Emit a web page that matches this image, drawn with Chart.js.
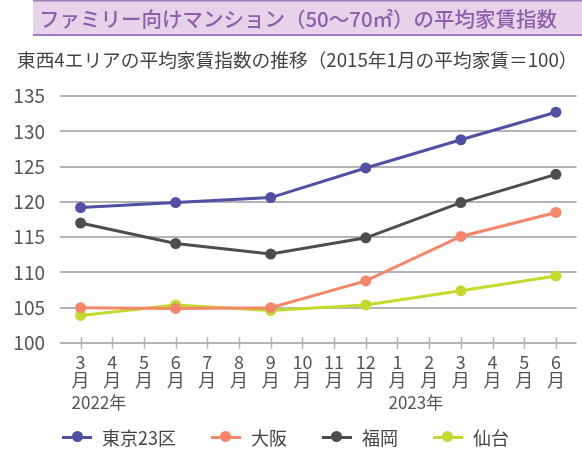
<!DOCTYPE html>
<html>
<head>
<meta charset="utf-8">
<script src="https://cdn.jsdelivr.net/npm/chart.js@4"></script>
<style>
  html, body { margin: 0; padding: 0; background: #fff; }
  #wrap { position: relative; width: 582px; height: 453px; overflow: hidden; font-family: "Noto Sans CJK JP", "Noto Sans", sans-serif; }
  #c { position: absolute; left: 0; top: 0; }
  #legend { position: absolute; left: 62px; top: 425px; height: 24px; display: flex; align-items: center; gap: 35px; }
  .item { display: flex; align-items: center; }
  .sw { position: relative; width: 30px; height: 3px; }
  .sw i { position: absolute; left: 9.5px; top: -4.5px; width: 11px; height: 11px; border-radius: 50%; }
  .lt { margin-left: 10px; font-size: 18px; color: #444; line-height: 24px; }
</style>
</head>
<body>
<div id="wrap">
  <canvas id="c" width="582" height="453"></canvas>
  <div id="legend"></div>
</div>
<script>
const titleText = 'ファミリー向けマンション（50〜70㎡）の平均家賃指数';
const subtitleText = '東西4エリアの平均家賃指数の推移（2015年1月の平均家賃＝100）';
const monthLabels = ['3','4','5','6','7','8','9','10','11','12','1','2','3','4','5','6'];
const dataMonthIdx = [0, 3, 6, 9, 12, 15];
const yearTexts = ['2022年', '2023年'];
const yearStartIdx = [0, 10];
const seriesNames = ['東京23区', '大阪', '福岡', '仙台'];
const seriesColors = ['#5050a4', '#f5866a', '#4d4d4d', '#c5d92d'];
const tokyo   = [119.2, 119.9, 120.6, 124.8, 128.8, 132.7];
const osaka   = [105.0, 104.9, 105.0, 108.8, 115.1, 118.5];
const fukuoka = [117.0, 114.1, 112.6, 114.9, 119.9, 123.9];
const sendai  = [103.9, 105.4, 104.6, 105.4, 107.4, 109.5];
const yTickMin = 100, yTickMax = 135, yTickStep = 5;

const FONT = '"Noto Sans CJK JP", "Noto Sans", sans-serif';
const GRID = '#b4b4b8';
const allSeries = [tokyo, osaka, fukuoka, sendai];

const datasets = allSeries.map((vals, k) => ({
  label: seriesNames[k],
  data: vals.map((v, i) => ({ x: dataMonthIdx[i], y: v })),
  borderColor: seriesColors[k],
  backgroundColor: seriesColors[k],
  borderWidth: 3,
  pointRadius: 5.5,
  pointBorderWidth: 0,
  pointBackgroundColor: seriesColors[k],
  tension: 0,
  clip: false
}));

const decor = {
  id: 'decor',
  beforeDraw(chart) {
    const ctx = chart.ctx;
    ctx.save();
    ctx.fillStyle = '#e6d2e9';
    ctx.fillRect(33, 0, 549, 36);
    ctx.fillStyle = '#a47cbd';
    ctx.fillRect(33, 0, 549, 1.5);
    ctx.fillRect(33, 34, 549, 2);
    ctx.fillStyle = '#8f5eae';
    ctx.font = '500 20.5px ' + FONT;
    ctx.textAlign = 'center';
    ctx.textBaseline = 'middle';
    ctx.fillText(titleText, 298, 19);
    ctx.fillStyle = '#444';
    ctx.font = '18.7px ' + FONT;
    ctx.textAlign = 'left';
    ctx.fillText(subtitleText, 17, 60);
    ctx.restore();
  },
  afterDraw(chart) {
    const ctx = chart.ctx;
    const xs = chart.scales.x;
    const yb = chart.chartArea.bottom;
    ctx.save();
    ctx.strokeStyle = GRID;
    ctx.lineWidth = 1.5;
    monthLabels.forEach((_, i) => {
      const px = Math.round(xs.getPixelForValue(i)) + 0.5;
      ctx.beginPath();
      ctx.moveTo(px, yb - 6);
      ctx.lineTo(px, yb + 6);
      ctx.stroke();
    });
    ctx.fillStyle = '#555';
    ctx.font = '17px ' + FONT;
    ctx.textAlign = 'left';
    ctx.textBaseline = 'middle';
    yearTexts.forEach((t, k) => {
      ctx.fillText(t, xs.getPixelForValue(yearStartIdx[k]) - 9, 403);
    });
    ctx.restore();
  }
};

new Chart(document.getElementById('c'), {
  type: 'line',
  data: { datasets },
  plugins: [decor],
  options: {
    responsive: false,
    animation: false,
    layout: { padding: { left: 0, right: 3, top: 96, bottom: 50 } },
    plugins: { legend: { display: false }, tooltip: { enabled: false }, title: { display: false } },
    scales: {
      x: {
        type: 'linear',
        min: -0.65,
        max: 15.65,
        grid: { display: false, drawTicks: false },
        border: { display: false },
        afterBuildTicks: (s) => { s.ticks = monthLabels.map((_, i) => ({ value: i })); },
        afterFit: (s) => { s.height = 60; },
        ticks: {
          autoSkip: false,
          maxRotation: 0,
          padding: 10,
          color: '#555',
          font: { family: FONT, size: 18, lineHeight: 1.0 },
          callback: (v) => [monthLabels[v], '月']
        }
      },
      y: {
        min: yTickMin,
        max: yTickMax,
        afterFit: (s) => { s.width = 60; },
        grid: { color: GRID, lineWidth: 2, drawTicks: false },
        border: { display: false },
        ticks: {
          stepSize: yTickStep,
          padding: 15,
          color: '#555',
          font: { family: FONT, size: 19 }
        }
      }
    }
  }
});

const lg = document.getElementById('legend');
seriesNames.forEach((n, k) => {
  const it = document.createElement('div');
  it.className = 'item';
  it.innerHTML = '<span class="sw" style="background:' + seriesColors[k] + '"><i style="background:' + seriesColors[k] + '"></i></span><span class="lt">' + n + '</span>';
  lg.appendChild(it);
});
</script>
</body>
</html>
